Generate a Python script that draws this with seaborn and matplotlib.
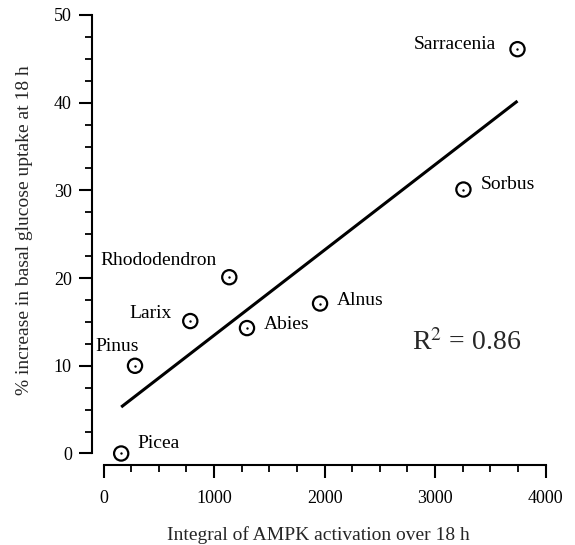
import numpy as np
import pandas as pd
import matplotlib
matplotlib.use("Agg")
import matplotlib.pyplot as plt
from matplotlib.ticker import MultipleLocator
import seaborn as sns

# AMPK activation integral vs. increase in basal glucose uptake, per plant genus
genus = ["Picea", "Pinus", "Larix", "Rhododendron", "Abies", "Alnus", "Sorbus", "Sarracenia"]
ampk_integral = [160, 285, 785, 1138, 1298, 1959, 3256, 3745]
glucose_uptake = [0.0, 10.0, 15.1, 20.1, 14.3, 17.1, 30.1, 46.1]

x_ticks = [0, 1000, 2000, 3000, 4000]
y_ticks = [0, 10, 20, 30, 40, 50]

# label placement: (dx, dy) in pixels from the point, horizontal alignment
label_offsets = {
    "Picea": (16, 5, "left"),
    "Pinus": (4, 15, "right"),
    "Larix": (-19, 3, "right"),
    "Rhododendron": (-13, 12, "right"),
    "Abies": (17, -1, "left"),
    "Alnus": (17, -1, "left"),
    "Sorbus": (17, 1, "left"),
    "Sarracenia": (-21, 0, "right"),
}

df = pd.DataFrame({"genus": genus, "ampk": ampk_integral, "uptake": glucose_uptake})

sns.set_style("ticks")
plt.rcParams["font.family"] = ["Liberation Serif", "DejaVu Serif"]
plt.rcParams["mathtext.fontset"] = "stix"

fig = plt.figure(figsize=(5.75, 5.45), dpi=100)
ax = fig.add_axes([0.18, 0.1679, 0.769, 0.8046])

# least-squares fit line
sns.regplot(data=df, x="ampk", y="uptake", scatter=False, ci=None, truncate=True,
            color="black", line_kws=dict(lw=2.2, solid_capstyle="butt"), ax=ax)

# open circles with a dot in the centre
sns.scatterplot(data=df, x="ampk", y="uptake", marker="o", s=105,
                facecolors="none", edgecolor="black", linewidth=1.6,
                clip_on=False, zorder=3, ax=ax)
sns.scatterplot(data=df, x="ampk", y="uptake", marker="o", s=3,
                color="black", linewidth=0, clip_on=False, zorder=4, ax=ax)

for g, xv, yv in zip(genus, ampk_integral, glucose_uptake):
    dx, dy, ha = label_offsets[g]
    ax.annotate(g, (xv, yv), xytext=(dx, dy), textcoords="offset pixels",
                ha=ha, va="baseline", fontsize=14, color="black",
                annotation_clip=False)

# coefficient of determination of the fit
x = np.asarray(ampk_integral, float)
y = np.asarray(glucose_uptake, float)
slope, intercept = np.polyfit(x, y, 1)
r2 = 1 - np.sum((y - (slope * x + intercept)) ** 2) / np.sum((y - y.mean()) ** 2)
ax.text(0.697, 0.236, f"R$^2$ = {r2:.2f}", transform=ax.transAxes,
        ha="left", va="baseline", fontsize=20)

ax.set_xlim(0, 4000)
ax.set_ylim(0, 50)
ax.set_xticks(x_ticks)
ax.set_yticks(y_ticks)
ax.xaxis.set_minor_locator(MultipleLocator(250))
ax.yaxis.set_minor_locator(MultipleLocator(2.5))

sns.despine(ax=ax, offset={"left": 8.3, "bottom": 8.6})
ax.spines["left"].set_bounds(0, 50)
ax.spines["bottom"].set_bounds(0, 4000)
for side in ("left", "bottom"):
    ax.spines[side].set_linewidth(1.5)
    ax.spines[side].set_color("black")

ax.tick_params(which="major", direction="out", length=9.5, width=1.5,
               labelsize=13, colors="black")
ax.tick_params(which="minor", direction="out", length=5, width=1.3, colors="black")
ax.tick_params(axis="y", which="major", pad=5)
ax.tick_params(axis="x", which="major", pad=8)

ax.set_xlabel("Integral of AMPK activation over 18 h", fontsize=14)
ax.set_ylabel("% increase in basal glucose uptake at 18 h", fontsize=14)
ax.xaxis.set_label_coords(0.487, -0.165)
ax.yaxis.set_label_coords(-0.16, 0.51)

fig.savefig("out.png", dpi=100)
